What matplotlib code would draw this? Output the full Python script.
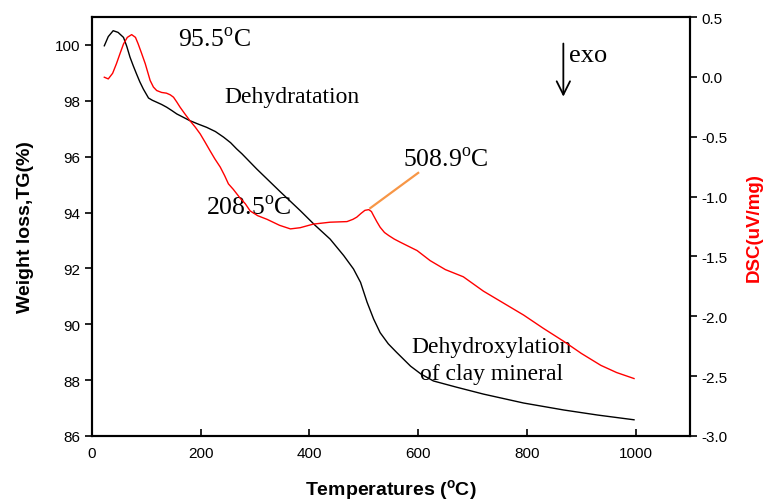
import matplotlib
matplotlib.use("Agg")
import matplotlib.pyplot as plt

# Thermogravimetric (TG) curve
tg_temp = [22.7, 30, 39, 48, 58, 64, 70, 76, 82, 88, 94.5, 104, 111, 119, 128, 137.5,
           147, 156, 168, 180, 195, 211, 227, 242, 255, 266, 276, 285, 303, 346,
           383, 410, 438, 463, 481, 494, 506, 518, 530, 545, 560, 586, 605, 628,
           670, 720, 794, 868, 930, 997]
tg_weight = [99.97, 100.3, 100.51, 100.45, 100.27, 99.95, 99.56, 99.25, 98.96, 98.68,
             98.42, 98.1, 98.02, 97.95, 97.87, 97.77, 97.65, 97.53, 97.41, 97.29,
             97.17, 97.05, 96.9, 96.7, 96.5, 96.28, 96.1, 95.92, 95.56, 94.75,
             94.07, 93.55, 93.05, 92.46, 91.98, 91.5, 90.79, 90.19, 89.7, 89.3,
             89.0, 88.5, 88.22, 87.97, 87.75, 87.5, 87.18, 86.93, 86.75, 86.58]

# Differential scanning calorimetry (DSC) curve
dsc_temp = [22.7, 30, 38, 45, 52, 58, 65, 73, 80, 85, 91, 98, 107, 113, 119, 128,
            137, 144, 150, 156, 162, 171, 180, 190, 199, 208, 217, 226, 236, 244,
            251, 260, 272, 282, 291, 305, 322, 345, 365, 383, 407, 438, 469, 480,
            487, 495, 502, 509, 514, 518, 524, 530, 538, 546, 556, 567, 582, 598,
            622, 650, 683, 720, 757, 794, 830, 868, 900, 936, 965, 997]
dsc_signal = [-0.003, -0.017, 0.03, 0.11, 0.20, 0.275, 0.33, 0.353, 0.33, 0.275,
              0.20, 0.11, -0.03, -0.085, -0.114, -0.13, -0.136, -0.15, -0.17, -0.21,
              -0.253, -0.31, -0.365, -0.42, -0.476, -0.545, -0.616, -0.685, -0.754,
              -0.825, -0.894, -0.94, -1.01, -1.06, -1.12, -1.16, -1.19, -1.24, -1.27,
              -1.26, -1.23, -1.214, -1.209, -1.19, -1.172, -1.14, -1.115, -1.109,
              -1.125, -1.16, -1.21, -1.256, -1.30, -1.326, -1.355, -1.381, -1.415,
              -1.451, -1.535, -1.61, -1.67, -1.79, -1.89, -1.99, -2.10, -2.21, -2.31,
              -2.41, -2.47, -2.52]

x_ticks = [0, 200, 400, 600, 800, 1000]
tg_ticks = [86, 88, 90, 92, 94, 96, 98, 100]
dsc_ticks = [-3.0, -2.5, -2.0, -1.5, -1.0, -0.5, 0.0, 0.5]

plt.rcParams['font.family'] = ['Liberation Sans', 'DejaVu Sans']
plt.rcParams['mathtext.fontset'] = 'custom'
plt.rcParams['mathtext.rm'] = 'Liberation Serif'
plt.rcParams['mathtext.sf'] = 'Liberation Sans:bold'

fig = plt.figure(figsize=(7.69, 5.02), dpi=100)
ax = fig.add_axes([0.1196, 0.1295, 0.7777, 0.8346])
ax2 = ax.twinx()

ax.plot(tg_temp, tg_weight, color='black', lw=1.0)
ax2.plot(dsc_temp, dsc_signal, color='red', lw=1.0)

ax.set_xlim(0, 1100)
ax.set_ylim(86, 101)
ax2.set_ylim(-3.0, 0.5)

ax.set_xticks(x_ticks)
ax.set_yticks(tg_ticks)
ax2.set_yticks(dsc_ticks)
ax2.set_yticklabels([f"{v:.1f}" for v in dsc_ticks])

ax.tick_params(axis='x', direction='in', length=5, width=1.2, labelsize=11, pad=7)
ax.tick_params(axis='y', direction='out', length=5, width=1.2, labelsize=11)
ax2.tick_params(axis='y', direction='out', length=5, width=1.2, labelsize=11)

for a in (ax, ax2):
    for s in a.spines.values():
        s.set_linewidth(1.5)

ax.set_xlabel('Temperatures ($^{\\mathsf{o}}$C)', fontsize=14, fontweight='bold', labelpad=13)
ax.set_ylabel('Weight loss,TG(%)', fontsize=14, fontweight='bold', labelpad=15)
ax2.set_ylabel('DSC(uV/mg)', fontsize=13.5, fontweight='bold', color='red', labelpad=13)

serif = dict(family='Liberation Serif', fontsize=18.5, ha='center', va='center')
ax.text(226, 100.2, '95.5$^{\\mathrm{o}}$C', **serif)
ax.text(368, 98.14, 'Dehydratation', family='Liberation Serif', fontsize=17,
        ha='center', va='center')
ax.text(289, 94.2, '208.5$^{\\mathrm{o}}$C', **serif)
ax.text(650, 95.92, '508.9$^{\\mathrm{o}}$C', **serif)
ax.text(735, 88.72, 'Dehydroxylation\nof clay mineral', family='Liberation Serif',
        fontsize=17, ha='center', va='center', linespacing=1.4)
ax.text(878, 99.64, 'exo', family='Liberation Serif', fontsize=19, ha='left', va='center')

ax.annotate('', xy=(867, 98.05), xytext=(867, 100.15),
            arrowprops=dict(arrowstyle='->', lw=1.3, color='black', mutation_scale=24))
ax.plot([512, 600], [94.16, 95.42], color='#F79646', lw=1.6)

fig.savefig('out.png', dpi=100)
